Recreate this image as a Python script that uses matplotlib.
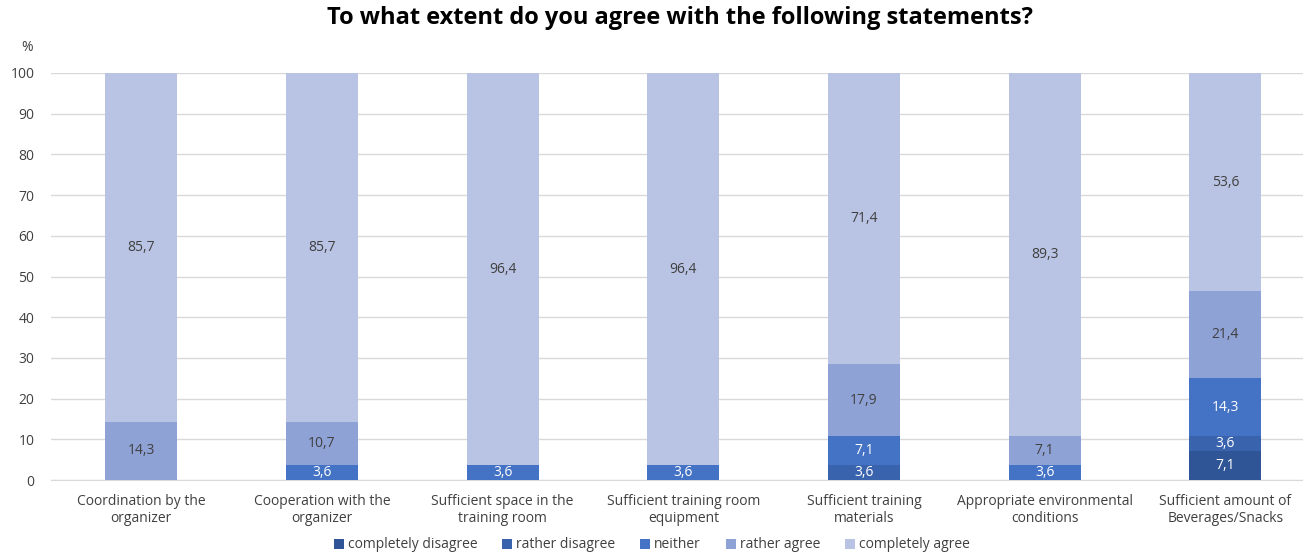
import numpy as np
import matplotlib.pyplot as plt

plt.rcParams['font.family'] = ['Open Sans', 'DejaVu Sans']

categories = ['Coordination by the\norganizer', 'Cooperation with the\norganizer',
              'Sufficient space in the\ntraining room', 'Sufficient training room\nequipment',
              'Sufficient training\nmaterials', 'Appropriate environmental\nconditions',
              'Sufficient amount of\nBeverages/Snacks']
series_names = ['completely disagree', 'rather disagree', 'neither', 'rather agree', 'completely agree']
completely_disagree = [0, 0, 0, 0, 0, 0, 7.1]
rather_disagree = [0, 0, 0, 0, 3.6, 0, 3.6]
neither = [0, 3.6, 3.6, 3.6, 7.1, 3.6, 14.3]
rather_agree = [14.3, 10.7, 0, 0, 17.9, 7.1, 21.4]
completely_agree = [85.7, 85.7, 96.4, 96.4, 71.4, 89.3, 53.6]

series = [completely_disagree, rather_disagree, neither, rather_agree, completely_agree]
colors = ['#2F5597', '#3A63AE', '#4472C4', '#8FA2D5', '#B9C3E3']
text_colors = ['white', 'white', 'white', '#404040', '#404040']

fig = plt.figure(figsize=(13.03, 5.55), dpi=100)
ax = fig.add_axes([51 / 1303, 75 / 555, 1252 / 1303, 407 / 555])

x = np.arange(len(categories))
bottom = np.zeros(len(categories))
for vals, name, col, tcol in zip(series, series_names, colors, text_colors):
    vals = np.array(vals, dtype=float)
    ax.bar(x, vals, width=0.4, bottom=bottom, color=col, label=name, zorder=3)
    for xi, v, b in zip(x, vals, bottom):
        if v > 0:
            ax.text(xi, b + v / 2, f'{v:.1f}'.replace('.', ','), ha='center', va='center',
                    color=tcol, fontsize=10, zorder=4)
    bottom += vals

ax.set_xlim(-0.5, 6.43)
ax.set_ylim(0, 100)
ax.set_yticks(range(0, 101, 10))
ax.grid(axis='y', color='#D9D9D9', linewidth=1, zorder=0)
ax.set_xticks(x)
ax.set_xticklabels(categories, fontsize=10, color='#404040')
ax.tick_params(axis='both', length=0, colors='#404040', labelsize=10)
ax.tick_params(axis='x', pad=10)
ax.tick_params(axis='y', pad=12)
for s in ['top', 'right', 'left']:
    ax.spines[s].set_visible(False)
ax.spines['bottom'].set_color('#D9D9D9')

ax.text(-0.633, 104.5, '%', ha='center', va='bottom', fontsize=10, color='#404040')

fig.text(680 / 1303, 1 - 18 / 555, 'To what extent do you agree with the following statements?',
         ha='center', va='center', fontsize=17, fontweight='bold', color='black')

fig.legend(loc='center', bbox_to_anchor=(652 / 1303, 1 - 545 / 555), ncol=5,
           frameon=False, fontsize=10, handlelength=0.7, handleheight=0.7,
           handletextpad=0.3, columnspacing=1.8, labelcolor='#404040',
           borderaxespad=0, borderpad=0)

fig.savefig('out.png', dpi=100)
